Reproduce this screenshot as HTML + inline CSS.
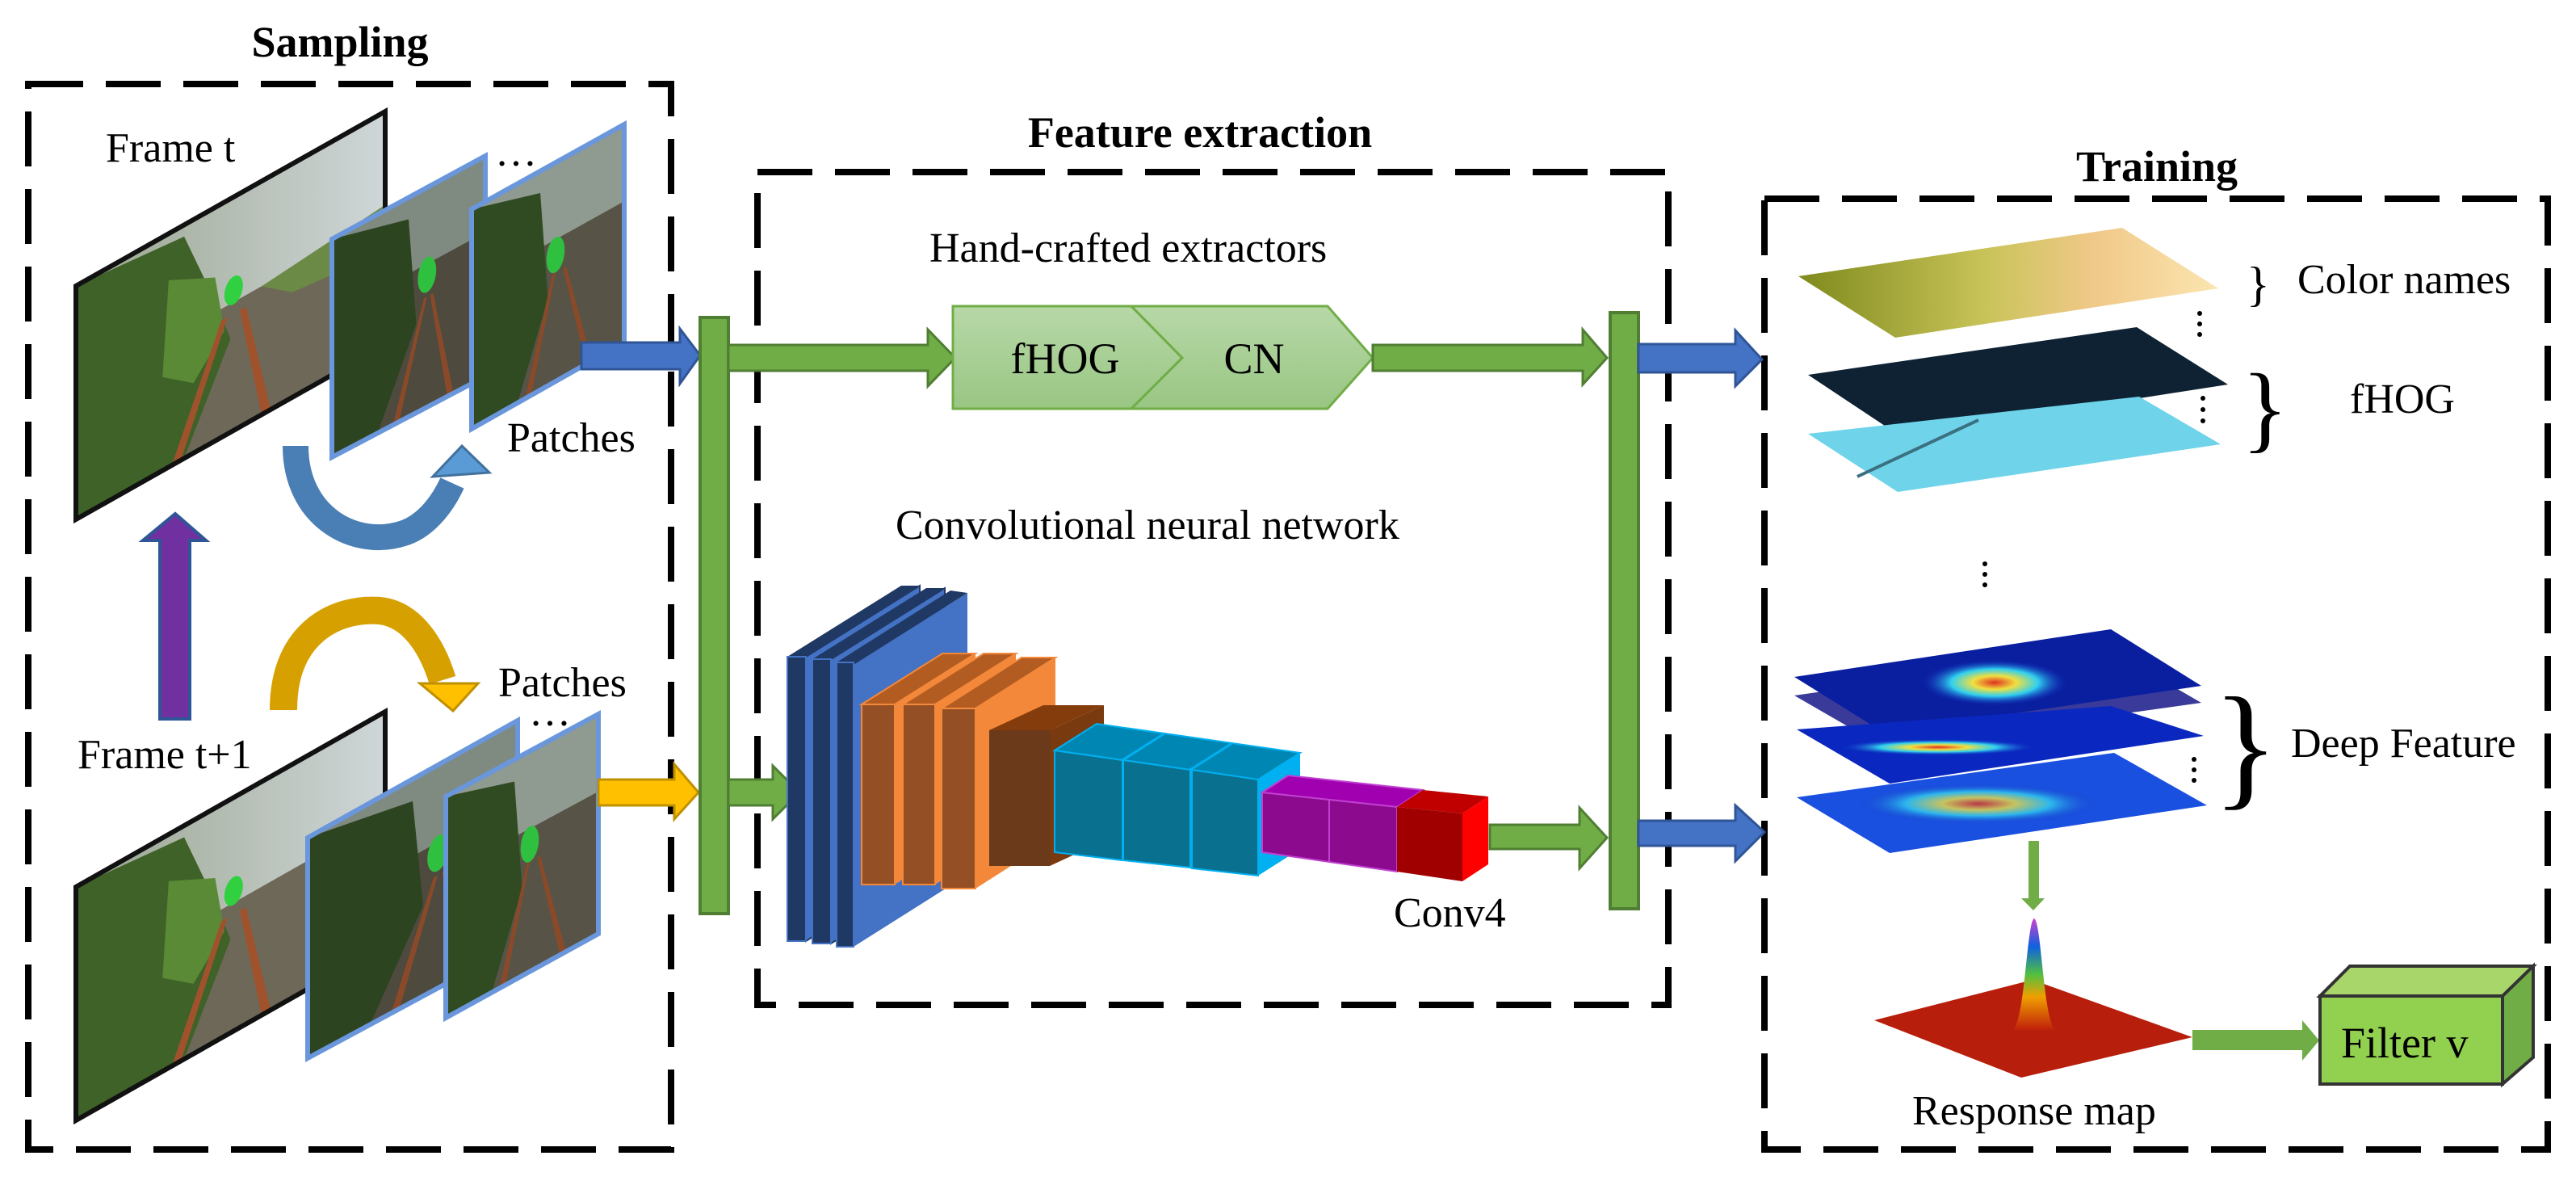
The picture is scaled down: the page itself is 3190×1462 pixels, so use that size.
<!DOCTYPE html>
<html><head><meta charset="utf-8"><style>
html,body{margin:0;padding:0;background:#fff}
svg{display:block}
text{font-family:"Liberation Serif",serif;fill:#000}
.t{font-size:54px;font-weight:bold}
.l{font-size:52px}
</style></head><body>
<svg width="3190" height="1462" viewBox="0 0 3190 1462" xmlns="http://www.w3.org/2000/svg">
<defs>
<linearGradient id="sky" x1="0" y1="0" x2="1" y2="0"><stop offset="0" stop-color="#9aa58f"/><stop offset="1" stop-color="#cfd6d8"/></linearGradient>
<linearGradient id="gr" x1="0" y1="0" x2="0" y2="1"><stop offset="0" stop-color="#b7d8a8"/><stop offset="1" stop-color="#99c683"/></linearGradient>
<linearGradient id="cn" x1="0" y1="0" x2="1" y2="0"><stop offset="0" stop-color="#7f8a1c"/><stop offset=".45" stop-color="#c9c45a"/><stop offset=".7" stop-color="#f0c888"/><stop offset="1" stop-color="#fbe5b0"/></linearGradient>
<linearGradient id="peak" x1="0" y1="1" x2="0" y2="0"><stop offset="0" stop-color="#c0200a"/><stop offset=".3" stop-color="#f0a000"/><stop offset=".5" stop-color="#50c040"/><stop offset=".75" stop-color="#1060e0"/><stop offset="1" stop-color="#d040d0"/></linearGradient>
<radialGradient id="hot" cx=".5" cy=".5" r=".5"><stop offset="0" stop-color="#e03020"/><stop offset=".3" stop-color="#f0e040"/><stop offset=".6" stop-color="#30d0f0"/><stop offset="1" stop-color="#1030c0" stop-opacity="0"/></radialGradient>
</defs>

<g fill="none" stroke="#000" stroke-width="8" stroke-dasharray="68 28">
<rect x="35" y="104" width="796" height="1319"/>
<rect x="938" y="213" width="1128" height="1031"/>
<rect x="2185" y="246" width="970" height="1177"/>
</g>
<text class="t" x="421" y="70" text-anchor="middle">Sampling</text>
<text class="t" x="1486" y="182" text-anchor="middle">Feature extraction</text>
<text class="t" x="2671" y="224" text-anchor="middle">Training</text>

<!-- Frame t -->
<g transform="matrix(383,-216,0,289,94,354)">
<rect x="0" y="0" width="1" height="1" fill="#6e6858"/>
<rect x="0" y="0" width="1" height=".45" fill="url(#sky)"/>
<polygon points="0,0 .35,.05 .45,.4 .5,.6 .35,1 0,1" fill="#3f6228"/>
<polygon points=".3,.2 .45,.3 .48,.55 .38,.7 .28,.6" fill="#5a8a35"/>
<polygon points=".6,.45 1,.4 1,.6 .7,.55" fill="#6b8a45"/>
<polygon points=".31,1 .34,1 .49,.5 .47,.5" fill="#a0522d"/>
<polygon points=".6,1 .63,1 .55,.5 .53,.5" fill="#a0522d"/>
<ellipse cx=".51" cy=".4" rx=".03" ry=".06" fill="#30d040"/>
</g>
<polygon points="94,354 477,138 477,427 94,643" fill="none" stroke="#111" stroke-width="6"/>
<g transform="matrix(190,-103,0,270,411,296)">
<rect width="1" height="1" fill="#4e4a3e"/>
<rect width="1" height=".35" fill="#7f8a80"/>
<polygon points="0,0 .5,.1 .55,.6 .3,1 0,1" fill="#2c4420"/>
<polygon points=".4,1 .44,1 .62,.5 .6,.5" fill="#8a4a2a"/>
<polygon points=".75,1 .79,1 .66,.5 .64,.5" fill="#8a4a2a"/>
<ellipse cx=".62" cy=".4" rx=".06" ry=".08" fill="#30c040"/>
</g>
<polygon points="411,296 601,193 601,466 411,566" fill="none" stroke="#6a96dc" stroke-width="6"/>
<g transform="matrix(189,-105,0,272,584,259)">
<rect width="1" height="1" fill="#575346"/>
<rect width="1" height=".35" fill="#8f9a90"/>
<polygon points="0,0 .45,.1 .5,.6 .3,1 0,1" fill="#304a22"/>
<polygon points=".35,1 .39,1 .55,.5 .53,.5" fill="#8a4a2a"/>
<polygon points=".75,1 .79,1 .62,.5 .6,.5" fill="#8a4a2a"/>
<ellipse cx=".55" cy=".42" rx=".06" ry=".08" fill="#30c040"/>
</g>
<polygon points="584,259 773,154 773,424 584,531" fill="none" stroke="#6a96dc" stroke-width="6"/>

<!-- Frame t+1 -->
<g transform="matrix(383,-217,0,289,94,1098)">
<rect x="0" y="0" width="1" height="1" fill="#6e6858"/>
<rect x="0" y="0" width="1" height=".45" fill="url(#sky)"/>
<polygon points="0,0 .35,.05 .45,.4 .5,.6 .35,1 0,1" fill="#3f6228"/>
<polygon points=".3,.2 .45,.3 .48,.55 .38,.7 .28,.6" fill="#5a8a35"/>
<polygon points=".31,1 .34,1 .49,.5 .47,.5" fill="#a0522d"/>
<polygon points=".6,1 .63,1 .55,.5 .53,.5" fill="#a0522d"/>
<ellipse cx=".51" cy=".4" rx=".03" ry=".06" fill="#30d040"/>
</g>
<polygon points="94,1098 477,881 477,1170 94,1387" fill="none" stroke="#111" stroke-width="6"/>
<g transform="matrix(260,-145,0,273,381,1037)">
<rect width="1" height="1" fill="#4e4a3e"/>
<rect width="1" height=".35" fill="#7f8a80"/>
<polygon points="0,0 .5,.1 .55,.6 .3,1 0,1" fill="#2c4420"/>
<polygon points=".4,1 .44,1 .62,.5 .6,.5" fill="#8a4a2a"/>
<polygon points=".75,1 .79,1 .66,.5 .64,.5" fill="#8a4a2a"/>
<ellipse cx=".62" cy=".4" rx=".05" ry=".08" fill="#30c040"/>
</g>
<polygon points="381,1037 641,892 641,1170 381,1310" fill="none" stroke="#6a96dc" stroke-width="6"/>
<g transform="matrix(189,-102,0,274,552,986)">
<rect width="1" height="1" fill="#575346"/>
<rect width="1" height=".35" fill="#8f9a90"/>
<polygon points="0,0 .45,.1 .5,.6 .3,1 0,1" fill="#304a22"/>
<polygon points=".35,1 .39,1 .55,.5 .53,.5" fill="#8a4a2a"/>
<polygon points=".75,1 .79,1 .62,.5 .6,.5" fill="#8a4a2a"/>
<ellipse cx=".55" cy=".42" rx=".06" ry=".08" fill="#30c040"/>
</g>
<polygon points="552,986 741,884 741,1156 552,1260" fill="none" stroke="#6a96dc" stroke-width="6"/>

<text class="l" x="131" y="200">Frame t</text>
<text class="l" x="628" y="559">Patches</text>
<text class="l" x="617" y="862">Patches</text>
<text class="l" x="96" y="951">Frame t+1</text>
<text class="l" x="613" y="205">…</text>
<text class="l" x="655" y="898">…</text>

<path d="M366,552 C366,640 440,680 500,660 C530,650 550,620 560,598" fill="none" stroke="#4a7fb5" stroke-width="32"/>
<polygon points="536,590 606,585 572,552" fill="#5b9bd5" stroke="#41719c" stroke-width="3"/>
<path d="M351,879 C351,780 420,752 470,756 C510,760 535,800 548,842" fill="none" stroke="#d6a000" stroke-width="34"/>
<polygon points="520,846 592,846 561,880" fill="#ffc000" stroke="#bf9000" stroke-width="3"/>
<polygon points="198,890 235,890 235,669 255,669 217,636 177,669 198,669" fill="#7030a0" stroke="#2f5597" stroke-width="4"/>

<polygon points="720,424 842,424 842,407 867,440 842,475 842,457 720,457" fill="#4472c4" stroke="#2f5597" stroke-width="3"/>
<polygon points="741,965 835,965 835,946 865,981 835,1014 835,997 741,997" fill="#ffc000" stroke="#bf9000" stroke-width="3"/>
<rect x="867" y="393" width="35" height="738" fill="#70ad47" stroke="#507e32" stroke-width="4"/>
<polygon points="902,427 1149,427 1149,408 1183,443 1149,478 1149,459 902,459" fill="#70ad47" stroke="#507e32" stroke-width="3"/>
<polygon points="902,965 957,965 957,948 990,981 957,1014 957,997 902,997" fill="#70ad47" stroke="#507e32" stroke-width="3"/>

<polygon points="1180,379 1401,379 1464,443 1401,506 1180,506" fill="url(#gr)" stroke="#70ad47" stroke-width="3"/>
<polygon points="1401,379 1644,379 1700,443 1644,506 1401,506 1464,443" fill="url(#gr)" stroke="#70ad47" stroke-width="3"/>
<text class="l" x="1319" y="462" text-anchor="middle" style="font-size:54px">fHOG</text>
<text class="l" x="1553" y="462" text-anchor="middle" style="font-size:54px">CN</text>
<text class="l" x="1151" y="324">Hand-crafted extractors</text>
<text class="l" x="1109" y="667">Convolutional neural network</text>
<polygon points="1700,427 1960,427 1960,408 1990,443 1960,476 1960,459 1700,459" fill="#70ad47" stroke="#507e32" stroke-width="3"/>

<g stroke-width="2">
<polygon points="998,813 1139,725 1139,1077 998,1165" fill="#4472c4" stroke="#203864"/>
<polygon points="975,813 1116,725 1139,725 998,813" fill="#203864"/>
<rect x="975" y="813" width="23" height="352" fill="#203864" stroke="#4472c4"/>
<polygon points="1029,816 1170,728 1170,1080 1029,1168" fill="#4472c4" stroke="#203864"/>
<polygon points="1006,816 1147,728 1170,728 1029,816" fill="#203864"/>
<rect x="1006" y="816" width="23" height="352" fill="#203864" stroke="#4472c4"/>
<polygon points="1057,823 1198,734 1198,1083 1057,1172" fill="#4472c4"/>
<polygon points="1036,820 1177,731 1198,734 1057,823" fill="#203864"/>
<rect x="1036" y="820" width="21" height="352" fill="#203864" stroke="#4472c4"/>

<polygon points="1108,872 1208,809 1208,1032 1108,1095" fill="#f4883a"/>
<polygon points="1067,872 1167,809 1208,809 1108,872" fill="#b35c22" stroke="#f4883a"/>
<rect x="1067" y="872" width="41" height="223" fill="#944f24" stroke="#f4883a"/>
<polygon points="1158,872 1258,809 1258,1032 1158,1095" fill="#f4883a"/>
<polygon points="1118,872 1218,809 1258,809 1158,872" fill="#b35c22" stroke="#f4883a"/>
<rect x="1118" y="872" width="40" height="223" fill="#944f24" stroke="#f4883a"/>
<polygon points="1208,877 1307,814 1307,1037 1208,1100" fill="#f4883a"/>
<polygon points="1166,877 1265,814 1307,814 1208,877" fill="#b35c22" stroke="#f4883a"/>
<rect x="1166" y="877" width="42" height="223" fill="#944f24" stroke="#f4883a"/>

<polygon points="1300,904 1367,873 1367,1041 1300,1072" fill="#7a3a10"/>
<polygon points="1225,904 1292,873 1367,873 1300,904" fill="#843c0c"/>
<rect x="1225" y="904" width="75" height="168" fill="#6b3a1a"/>

<polygon points="1306,929 1358,896 1610,932 1558,965" fill="#0086b3" stroke="#00b0f0"/>
<line x1="1390" y1="941" x2="1442" y2="908" stroke="#00b0f0" stroke-width="3"/>
<line x1="1474" y1="953" x2="1526" y2="920" stroke="#00b0f0" stroke-width="3"/>
<polygon points="1558,965 1610,932 1610,1051 1558,1084" fill="#00b0f0"/>
<polygon points="1306,929 1390,941 1390,1065 1306,1055" fill="#0a7090" stroke="#00b0f0"/>
<polygon points="1391,941 1474,953 1474,1074 1391,1065" fill="#0a7090" stroke="#00b0f0"/>
<polygon points="1476,953 1558,965 1558,1084 1476,1075" fill="#0a7090" stroke="#00b0f0"/>

<polygon points="1563,981 1595,960 1762,978 1730,999" fill="#a000b0" stroke="#c040d0"/>
<polygon points="1730,999 1762,978 1843,986 1811,1007" fill="#c00000"/>
<polygon points="1811,1007 1843,986 1843,1070 1811,1091" fill="#ff0000"/>
<polygon points="1563,981 1646,990 1646,1067 1563,1055" fill="#8b0a8e" stroke="#c040d0"/>
<polygon points="1646,990 1730,999 1730,1079 1646,1067" fill="#8b0a8e" stroke="#c040d0"/>
<polygon points="1730,999 1811,1007 1811,1091 1730,1079" fill="#a00000"/>
</g>
<text class="l" x="1726" y="1147">Conv4</text>
<polygon points="1845,1021 1956,1021 1956,1000 1990,1037 1956,1075 1956,1051 1845,1051" fill="#70ad47" stroke="#507e32" stroke-width="3"/>
<rect x="1994" y="387" width="35" height="738" fill="#70ad47" stroke="#507e32" stroke-width="4"/>
<polygon points="2029,426 2149,426 2149,409 2182,445 2149,478 2149,461 2029,461" fill="#4472c4" stroke="#2f5597" stroke-width="3"/>
<polygon points="2029,1016 2149,1016 2149,997 2185,1030 2149,1066 2149,1047 2029,1047" fill="#4472c4" stroke="#2f5597" stroke-width="3"/>

<polygon points="2227,342 2628,282 2747,357 2347,418" fill="url(#cn)"/>
<polygon points="2239,464 2646,405 2759,476 2352,539" fill="#0e2233"/>
<polygon points="2239,537 2649,491 2750,550 2350,609" fill="#6fd3ea"/>
<line x1="2300" y1="590" x2="2450" y2="520" stroke="#3a7080" stroke-width="4"/>
<polygon points="2222,861 2614,805 2726,870 2333,925" fill="#3a3a9a"/>
<polygon points="2222,838 2614,779 2726,849 2333,907" fill="#0a1fa0"/>
<ellipse cx="2470" cy="845" rx="90" ry="28" fill="url(#hot)"/>
<polygon points="2225,903 2614,874 2729,911 2340,970" fill="#0a28c0"/>
<ellipse cx="2400" cy="925" rx="120" ry="10" fill="url(#hot)"/>
<polygon points="2225,987 2618,932 2733,997 2340,1056" fill="#1a50e0"/>
<ellipse cx="2450" cy="995" rx="150" ry="25" fill="url(#hot)" opacity=".8"/>
<text x="2782" y="372" style="font-size:60px">}</text>
<text x="2776" y="545" style="font-size:120px">}</text>
<text x="2740" y="980" style="font-size:170px">}</text>
<text class="l" x="2845" y="363">Color names</text>
<text class="l" x="2910" y="511">fHOG</text>
<text class="l" x="2837" y="937">Deep Feature</text>
<g fill="#000">
<circle cx="2724" cy="388" r="3"/><circle cx="2724" cy="401" r="3"/><circle cx="2724" cy="414" r="3"/>
<circle cx="2728" cy="493" r="3"/><circle cx="2728" cy="507" r="3"/><circle cx="2728" cy="521" r="3"/>
<circle cx="2458" cy="698" r="3"/><circle cx="2458" cy="711" r="3"/><circle cx="2458" cy="724" r="3"/>
<circle cx="2717" cy="940" r="3"/><circle cx="2717" cy="953" r="3"/><circle cx="2717" cy="966" r="3"/>
</g>
<polygon points="2512,1041 2525,1041 2525,1112 2532,1112 2518,1127 2503,1112 2512,1112" fill="#70ad47"/>
<polygon points="2321,1263 2517,1213 2715,1284 2503,1334" fill="#b81e0c"/>
<path d="M2493,1275 C2508,1260 2510,1140 2519,1137 C2528,1140 2530,1260 2545,1275 Z" fill="url(#peak)"/>
<text class="l" x="2368" y="1392">Response map</text>
<polygon points="2715,1275 2851,1275 2851,1263 2872,1288 2851,1313 2851,1300 2715,1300" fill="#70ad47"/>
<polygon points="2873,1233 2910,1196 3137,1196 3099,1233" fill="#a9d66b" stroke="#333" stroke-width="4"/>
<polygon points="3099,1233 3137,1196 3137,1309 3099,1342" fill="#70ad47" stroke="#333" stroke-width="4"/>
<rect x="2873" y="1233" width="226" height="109" fill="#92d050" stroke="#333" stroke-width="4"/>
<text class="l" x="2899" y="1309" style="font-size:54px">Filter v</text>
</svg>
</body></html>
